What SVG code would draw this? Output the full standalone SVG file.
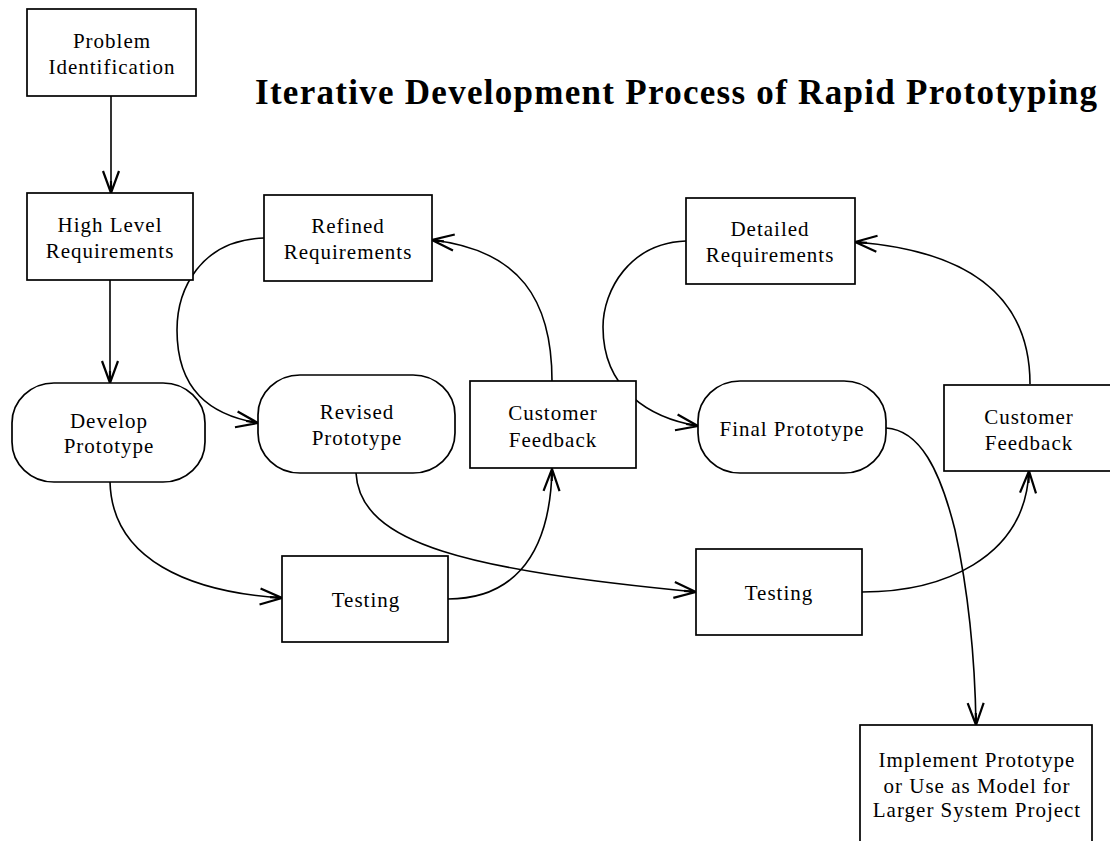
<svg xmlns="http://www.w3.org/2000/svg" width="1110" height="841" viewBox="0 0 1110 841">
<style>
.bg{fill:#fff}
.box{fill:#fff;stroke:#000;stroke-width:1.7}
.lbl{font-family:"Liberation Serif","Times New Roman",serif;font-size:21px;letter-spacing:1px;fill:#000;text-anchor:middle}
.title{font-family:"Liberation Serif","Times New Roman",serif;font-size:35px;font-weight:bold;fill:#000}
.con{fill:none;stroke:#000;stroke-width:1.6;marker-end:url(#arr)}
</style>
<defs>
<marker id="arr" viewBox="-26 -12 28 24" refX="0" refY="0" markerWidth="28" markerHeight="24" markerUnits="userSpaceOnUse" orient="auto">
<path d="M-22,-8 L0,0 L-22,8 M-12,0 L0,0" fill="none" stroke="#000" stroke-width="2.2" stroke-linejoin="miter"/>
</marker>
</defs>
<rect class="bg" x="0" y="0" width="1110" height="841"/>
<text class="title" x="255" y="104" textLength="842" lengthAdjust="spacing">Iterative Development Process of Rapid Prototyping</text>

<g id="connectors">
<path class="con" d="M111,96 L111,193"/>
<path class="con" d="M110,280 L110,383"/>
<path class="con" d="M110,482 C112,560 190,592 282,598"/>
<path class="con" d="M448,599 C505,599 550,565 552,469"/>
<path class="con" d="M552,381 C552,300 520,250 432,240"/>
<path class="con" d="M264,238 C200,240 177,290 177,330 C177,390 210,415 258,423"/>
<path class="con" d="M356,473 C360,545 470,570 696,592"/>
<path class="con" d="M862,592 C940,592 1025,560 1029,471"/>
<path class="con" d="M1030,384 C1030,290 960,250 855,242"/>
<path class="con" d="M686,241 C630,243 603,290 603,327 C603,390 650,418 698,426"/>
<path class="con" d="M886,428 C920,430 940,470 955,530 C968,590 975,660 976,725"/>
</g>

<g id="problem-identification">
<rect class="box" x="27" y="9" width="169" height="87"/>
<text class="lbl" x="112" y="48">Problem</text>
<text class="lbl" x="112" y="74">Identification</text>
</g>

<g id="high-level-requirements">
<rect class="box" x="27" y="193" width="166" height="87"/>
<text class="lbl" x="110" y="232">High Level</text>
<text class="lbl" x="110" y="258">Requirements</text>
</g>

<g id="refined-requirements">
<rect class="box" x="264" y="195" width="168" height="86"/>
<text class="lbl" x="348" y="233">Refined</text>
<text class="lbl" x="348" y="259">Requirements</text>
</g>

<g id="detailed-requirements">
<rect class="box" x="686" y="198" width="169" height="86"/>
<text class="lbl" x="770" y="236">Detailed</text>
<text class="lbl" x="770" y="262">Requirements</text>
</g>

<g id="develop-prototype">
<rect class="box" x="12" y="383" width="193" height="99" rx="42" ry="40"/>
<text class="lbl" x="109" y="428">Develop</text>
<text class="lbl" x="109" y="453">Prototype</text>
</g>

<g id="revised-prototype">
<rect class="box" x="258" y="375" width="197" height="98" rx="42" ry="40"/>
<text class="lbl" x="357" y="419">Revised</text>
<text class="lbl" x="357" y="445">Prototype</text>
</g>

<g id="customer-feedback-1">
<rect class="box" x="470" y="381" width="166" height="87"/>
<text class="lbl" x="553" y="420">Customer</text>
<text class="lbl" x="553" y="447">Feedback</text>
</g>

<g id="final-prototype">
<rect class="box" x="698" y="381" width="188" height="92" rx="42" ry="40"/>
<text class="lbl" x="792" y="436">Final Prototype</text>
</g>

<g id="customer-feedback-2">
<rect class="box" x="944" y="385" width="180" height="86"/>
<text class="lbl" x="1029" y="424">Customer</text>
<text class="lbl" x="1029" y="450">Feedback</text>
</g>

<g id="testing-1">
<rect class="box" x="282" y="556" width="166" height="86"/>
<text class="lbl" x="366" y="607">Testing</text>
</g>

<g id="testing-2">
<rect class="box" x="696" y="549" width="166" height="86"/>
<text class="lbl" x="779" y="600">Testing</text>
</g>

<g id="implement">
<rect class="box" x="860" y="725" width="232" height="130"/>
<text class="lbl" x="977" y="767">Implement Prototype</text>
<text class="lbl" x="977" y="793">or Use as Model for</text>
<text class="lbl" x="977" y="817">Larger System Project</text>
</g>
</svg>
